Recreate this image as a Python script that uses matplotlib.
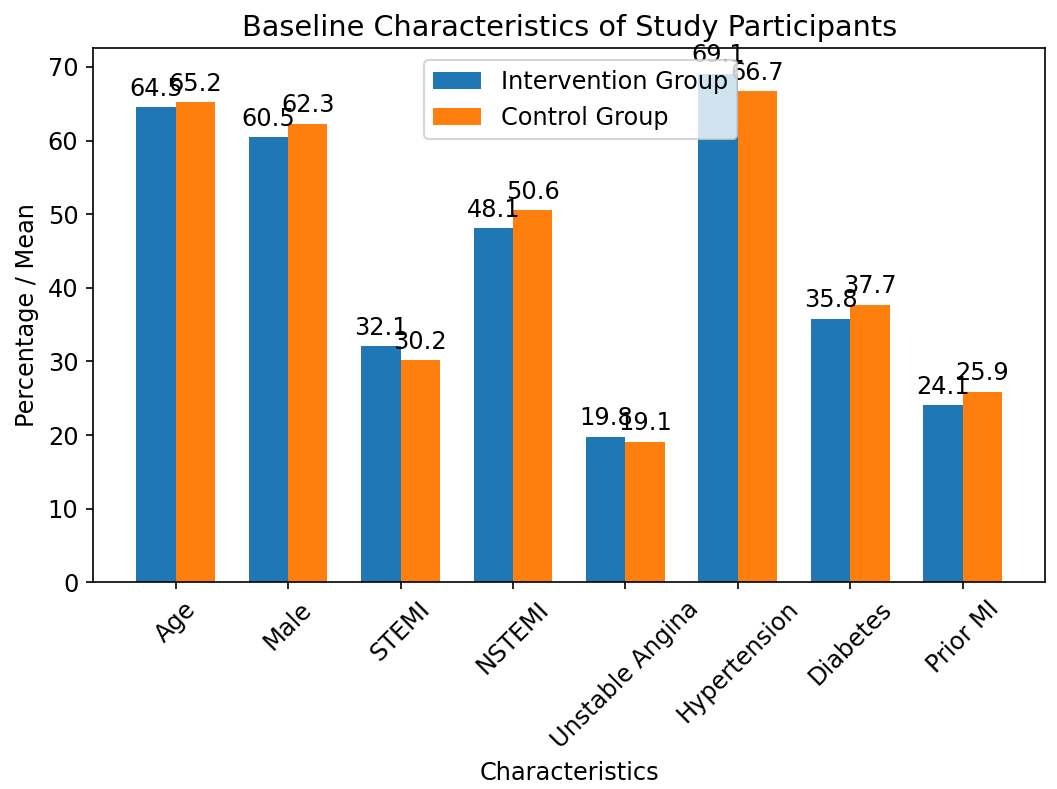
import numpy as np
import matplotlib
matplotlib.use("Agg")
import matplotlib.pyplot as plt

categories = ["Age", "Male", "STEMI", "NSTEMI", "Unstable Angina",
              "Hypertension", "Diabetes", "Prior MI"]
intervention = [64.5, 60.5, 32.1, 48.1, 19.8, 69.1, 35.8, 24.1]
control = [65.2, 62.3, 30.2, 50.6, 19.1, 66.7, 37.7, 25.9]

plt.rcParams["font.size"] = 11.5

x = np.arange(len(categories))
width = 0.35

fig, ax = plt.subplots(figsize=(1057 / 150, 789 / 150), dpi=150)
b1 = ax.bar(x - width / 2, intervention, width, label="Intervention Group")
b2 = ax.bar(x + width / 2, control, width, label="Control Group")
ax.bar_label(b1, padding=3)
ax.bar_label(b2, padding=3)

ax.set_xlabel("Characteristics")
ax.set_ylabel("Percentage / Mean")
ax.set_title("Baseline Characteristics of Study Participants")
ax.set_xticks(x)
ax.set_xticklabels(categories, rotation=45)
ax.legend(loc="upper center", bbox_to_anchor=(0.512, 1.0))

fig.subplots_adjust(left=0.088, right=0.989, top=0.939, bottom=0.262)
fig.savefig("out.png", dpi=150)
